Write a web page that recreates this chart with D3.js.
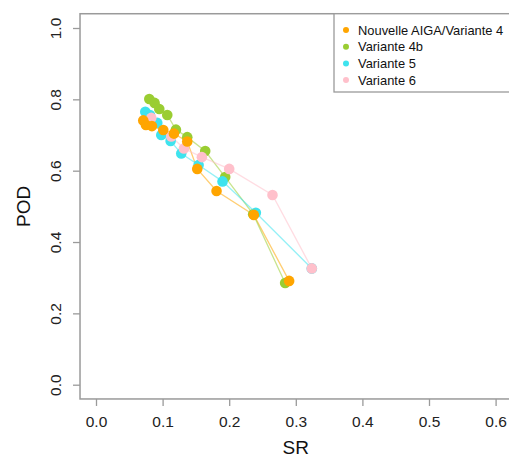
<!DOCTYPE html>
<html><head><meta charset="utf-8">
<script src="https://cdn.jsdelivr.net/npm/d3@7"></script>
<style>html,body{margin:0;padding:0;background:#fff;}svg{display:block;font-family:"Liberation Sans",Arial,sans-serif;}</style>
</head><body><svg id="chart" width="509" height="460"></svg>
<script>
const seriesNames = ["Nouvelle AIGA/Variante 4", "Variante 4b", "Variante 5", "Variante 6"];
const seriesColors = ["#FFA500", "#9ACD32", "#3EE3EE", "#FFC0CB"];
const srV4  = [0.071, 0.075, 0.084, 0.101, 0.117, 0.137, 0.152, 0.181, 0.237, 0.290];
const podV4 = [0.741, 0.728, 0.725, 0.714, 0.704, 0.682, 0.605, 0.543, 0.476, 0.291];
const srV4b  = [0.080, 0.088, 0.095, 0.107, 0.120, 0.137, 0.164, 0.194, 0.236, 0.284];
const podV4b = [0.801, 0.790, 0.773, 0.756, 0.715, 0.694, 0.655, 0.582, 0.478, 0.285];
const srV5  = [0.074, 0.081, 0.092, 0.098, 0.112, 0.128, 0.154, 0.190, 0.240, 0.324];
const podV5 = [0.765, 0.756, 0.734, 0.700, 0.683, 0.648, 0.616, 0.570, 0.482, 0.326];
const srV6  = [0.080, 0.083, 0.113, 0.132, 0.159, 0.200, 0.265, 0.324];
const podV6 = [0.738, 0.748, 0.696, 0.662, 0.638, 0.605, 0.532, 0.326];
const xTicks = [0, 0.1, 0.2, 0.3, 0.4, 0.5, 0.6];
const yTicks = [0, 0.2, 0.4, 0.6, 0.8, 1.0];

const series = [
  {sr: srV4, pod: podV4},
  {sr: srV4b, pod: podV4b},
  {sr: srV5, pod: podV5},
  {sr: srV6, pod: podV6}
].map((s, i) => ({name: seriesNames[i], color: seriesColors[i], pts: s.sr.map((v, j) => [v, s.pod[j]])}));

const svg = d3.select("#chart");
const x = d3.scaleLinear().domain([0, 0.6]).range([96, 495.6]);
const y = d3.scaleLinear().domain([0, 1]).range([384.7, 28]);
const bx0 = x(-0.024), bx1 = x(0.624), by0 = y(1.04), by1 = y(-0.04);
const axisCol = "#9a9a9a";

// box
svg.append("rect").attr("x", bx0).attr("y", by0).attr("width", bx1 - bx0).attr("height", by1 - by0)
  .attr("fill", "none").attr("stroke", axisCol).attr("stroke-width", 1.5);

// x axis
const gx = svg.append("g").attr("transform", `translate(0,${by1})`)
  .call(d3.axisBottom(x).tickValues(xTicks).tickFormat(d3.format(".1f")).tickSize(7).tickSizeOuter(0).tickPadding(10));
gx.select(".domain").remove();
gx.selectAll(".tick line").attr("stroke", axisCol).attr("stroke-width", 1.3);
gx.selectAll(".tick text").attr("font-size", "15.5px").attr("fill", "#222").attr("font-family", "Liberation Sans, Arial, sans-serif");

// y axis
const gy = svg.append("g").attr("transform", `translate(${bx0},0)`)
  .call(d3.axisLeft(y).tickValues(yTicks).tickFormat(d3.format(".1f")).tickSize(7).tickSizeOuter(0));
gy.select(".domain").remove();
gy.selectAll(".tick line").attr("stroke", axisCol).attr("stroke-width", 1.3);
gy.selectAll(".tick text").attr("font-size", "15.5px").attr("fill", "#222").attr("font-family", "Liberation Sans, Arial, sans-serif")
  .attr("x", null).attr("dy", null).attr("text-anchor", "middle")
  .attr("transform", "translate(-19,0) rotate(-90)");

// axis titles
svg.append("text").attr("x", x(0.3)).attr("y", 454).attr("text-anchor", "middle")
  .attr("font-size", "19px").attr("fill", "#111").text("SR");
svg.append("text").attr("transform", `translate(30,${y(0.5)}) rotate(-90)`).attr("text-anchor", "middle")
  .attr("font-size", "19px").attr("fill", "#111").text("POD");

// lines
const line = d3.line().x(d => x(d[0])).y(d => y(d[1]));
series.forEach(s => {
  svg.append("path").attr("d", line(s.pts)).attr("fill", "none")
    .attr("stroke", s.color).attr("stroke-opacity", 0.55).attr("stroke-width", 1.3);
});

// points (draw order: 4b, 5, 6, 4)
[1, 2, 3, 0].forEach(i => {
  const s = series[i];
  svg.append("g").selectAll("circle").data(s.pts).join("circle")
    .attr("cx", d => x(d[0])).attr("cy", d => y(d[1])).attr("r", 5.3).attr("fill", s.color);
});

// legend
const lg = svg.append("g");
lg.append("rect").attr("x", 334).attr("y", by0).attr("width", bx1 - 334).attr("height", 92 - by0)
  .attr("fill", "#fff").attr("stroke", axisCol).attr("stroke-width", 1.3);
seriesNames.forEach((n, i) => {
  const yy = 30 + i * 16.7;
  lg.append("circle").attr("cx", 346).attr("cy", yy).attr("r", 3).attr("fill", seriesColors[i]);
  lg.append("text").attr("x", 358).attr("y", yy + 4.6).attr("font-size", "12.9px").attr("fill", "#111").text(n);
});
</script></body></html>
